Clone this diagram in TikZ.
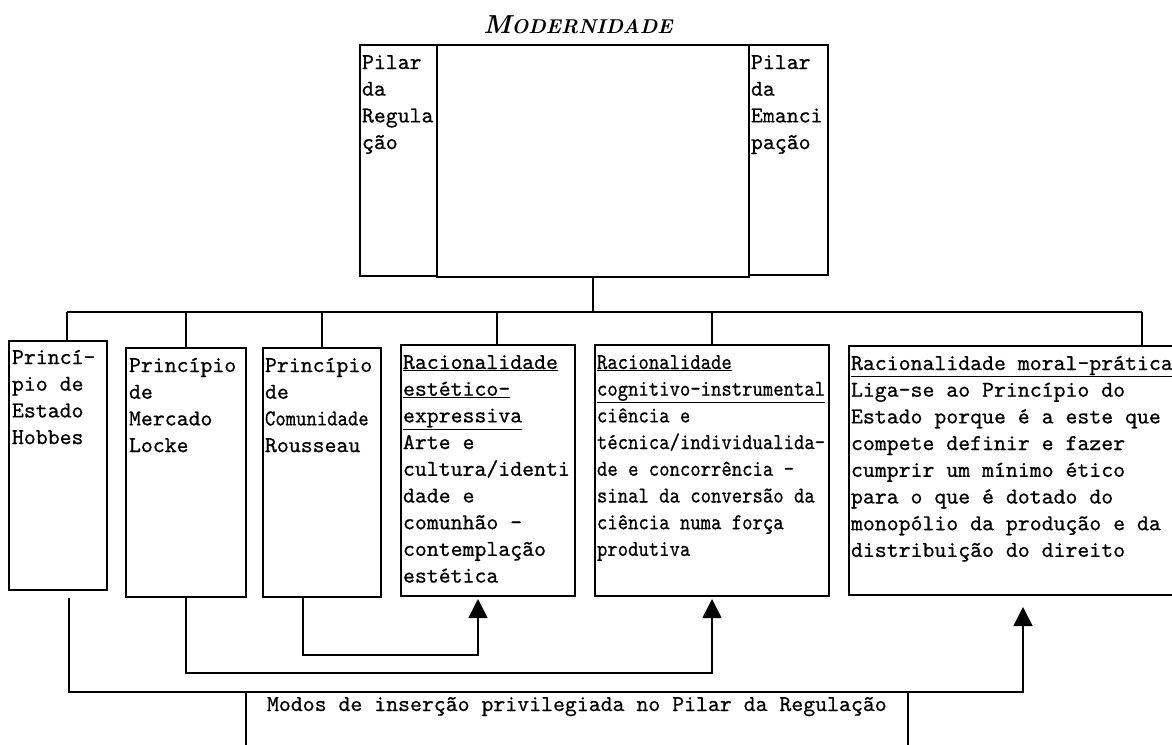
\documentclass[tikz,border=0pt]{standalone}
\usepackage{fontspec}
\usetikzlibrary{arrows.meta,calc}
\newfontfamily\mytt{lmmono10-regular.otf}[FakeBold=0.6]
\newfontfamily\narrowtt{lmmono10-regular.otf}[FakeStretch=0.87,FakeBold=0.6]
\newcommand\fst{\rule{0pt}{20pt}}
\begin{document}
\begin{tikzpicture}[x=1pt,y=-1pt,
  line width=1.6pt,
  box/.style={draw, line width=1.6pt, inner sep=0pt, outer sep=0pt, anchor=north west},
  txt/.style={anchor=north west, inner sep=0pt, outer sep=0pt, align=left,
              font=\mytt\bfseries\fontsize{22.7}{26.7}\selectfont},
  ntxt/.style={txt, font=\narrowtt\bfseries\fontsize{22.7}{26.7}\selectfont},
  arr/.style={line width=1.6pt, -{Triangle[length=19pt,width=19pt]}},
  ttl/.style={inner sep=0pt, font=\rmfamily\bfseries\itshape}
]
\useasboundingbox (0,0) rectangle (1172,744);

% title
\node[ttl] (title) at (578,25) {\fontsize{26}{26}\selectfont M\fontsize{20}{20}\selectfont ODERNIDADE};

% top boxes
\node[box, minimum width=77pt, minimum height=231pt] (pl) at (360,45) {};
\node[box, minimum width=312pt, minimum height=232pt] (pm) at (437,45) {};
\node[box, minimum width=79pt, minimum height=230pt] (pr) at (749,45) {};
\node[txt] (tpl) at ([xshift=2pt,yshift=-4pt]pl.north west) {\fst Pilar\\da\\Regula\\ção};
\node[txt] (tpr) at ([xshift=2pt,yshift=-4pt]pr.north west) {\fst Pilar\\da\\Emanci\\pação};

% lower boxes
\node[box, minimum width=98pt, minimum height=249pt] (b1) at (9,341) {};
\node[box, minimum width=120pt, minimum height=249pt] (b2) at (126,348) {};
\node[box, minimum width=118pt, minimum height=249pt] (b3) at (263,348) {};
\node[box, minimum width=174pt, minimum height=251pt] (b4) at (401,345) {};
\node[box, minimum width=234pt, minimum height=251pt] (b5) at (595,345) {};
\node[box, minimum width=330pt, minimum height=249pt] (b6) at (849,346) {};

\node[txt] (t1) at ([xshift=3pt,yshift=-3pt]b1.north west) {\fst Princí-\\pio de\\Estado\\Hobbes};
\node[txt] (t2) at ([xshift=3pt,yshift=-4pt]b2.north west) {\fst Princípio\\de\\Mercado\\Locke};
\node[txt] (t3) at ([xshift=2pt,yshift=-4pt]b3.north west) {\fst Princípio\\de\\{\narrowtt\bfseries Comunidade}\\Rousseau};
\node[txt] (t4) at ([xshift=2pt,yshift=-4pt]b4.north west) {\fst\underline{Racionalidade}\\\underline{estético-}\\\underline{expressiva}\\Arte e\\cultura/identi\\dade e\\comunhão -\\contemplação\\estética};
\node[ntxt] (t5) at ([xshift=2pt,yshift=-4pt]b5.north west) {\fst\underline{Racionalidade}\\\underline{cognitivo-instrumental}\\ciência e\\técnica/individualida-\\de e concorrência -\\sinal da conversão da\\ciência numa força\\produtiva};
\node[txt] (t6) at ([xshift=2pt,yshift=-4pt]b6.north west) {\fst\underline{Racionalidade moral-prática}\\Liga-se ao Princípio do\\Estado porque é a este que\\compete definir e fazer\\cumprir um mínimo ético\\para o que é dotado do\\monopólio da produção e da\\distribuição do direito};

% upper connectors
\coordinate (hub) at (595,312);
\coordinate (busL) at (67,312);
\coordinate (busR) at (1142,312);
\coordinate (d4) at (497,312);
\draw (pm.south) -- (pm.south |- hub);
\draw (busL) -- (busR);
\draw (busL) -- (busL |- b1.north);
\draw (b2.north |- busL) -- (b2.north);
\draw (b3.north |- busL) -- (b3.north);
\draw (d4) -- (d4 |- b4.north);
\draw (b5.north |- busL) -- (b5.north);
\draw (busR) -- (busR |- b6.north);

% bottom box
\node[box, minimum width=662pt, minimum height=80pt] (modos) at (246,692) {};
\node[txt] (tm) at ([xshift=21pt,yshift=1pt]modos.north west) {\fst Modos de inserção privilegiada no Pilar da Regulação};

% lower connectors
\coordinate (hb) at (0,692);
\coordinate (lk) at (0,673);
\coordinate (rs) at (0,655);
\draw[arr] ([xshift=11pt,yshift=-8pt]b1.south) |- ([xshift=9pt]b6.south |- hb) -- ([xshift=9pt,yshift=-12pt]b6.south);
\draw[arr] (b2.south) |- (b5.south |- lk) -- ([yshift=-3pt]b5.south);
\draw[arr] ([xshift=-19pt]b3.south) |- ([xshift=-10pt]b4.south |- rs) -- ([xshift=-10pt,yshift=-3pt]b4.south);
\end{tikzpicture}
\end{document}
